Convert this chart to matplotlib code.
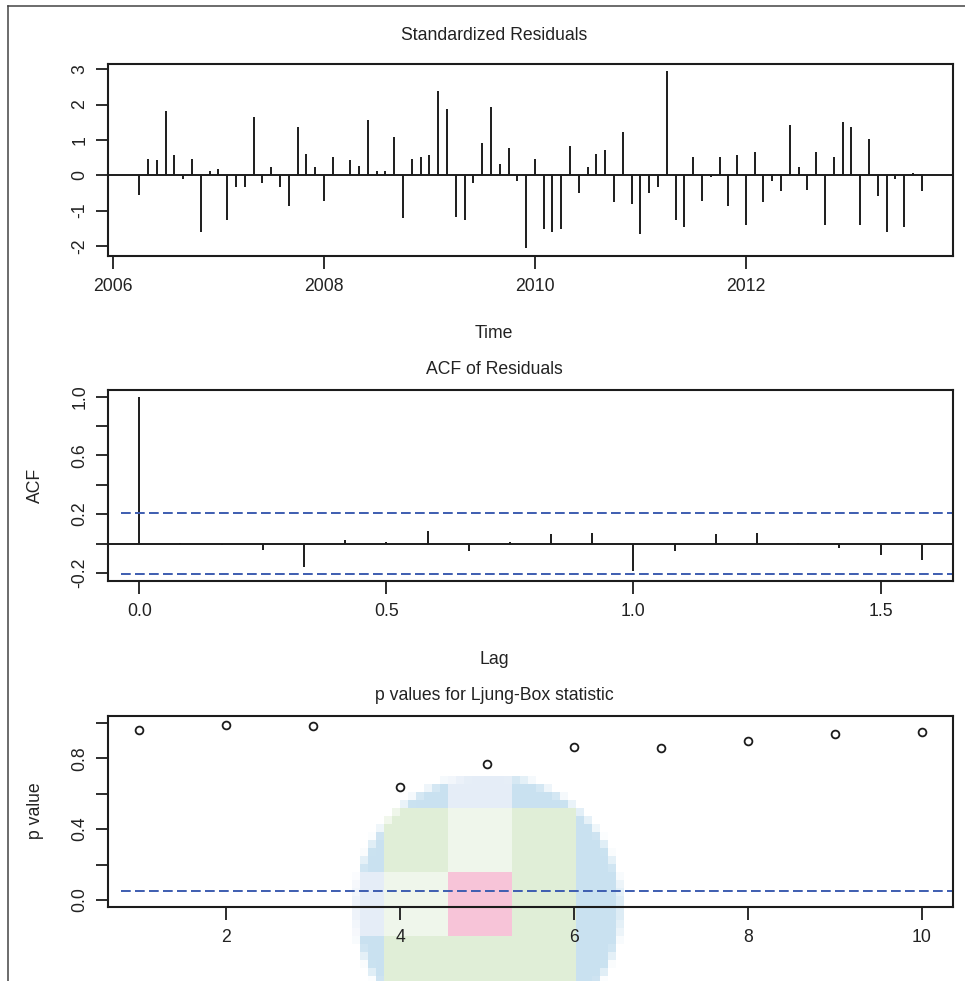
import numpy as np
import matplotlib
matplotlib.use('Agg')
import matplotlib.pyplot as plt
from matplotlib.lines import Line2D

plt.rcParams['font.family'] = ['Liberation Sans', 'DejaVu Sans']

# ---------------- data ----------------
start_year = 2006
start_month = 4          # April 2006, monthly series
resid = [-0.56, 0.46, 0.42, 1.82, 0.57, -0.11, 0.46, -1.61, 0.12, 0.17,
         -1.26, -0.32, -0.32, 1.66, -0.23, 0.22, -0.32, -0.87, 1.37, 0.61,
         0.22, -0.72, 0.51, 0.02, 0.42, 0.26, 1.57, 0.12, 0.12, 1.07,
         -1.22, 0.46, 0.51, 0.57, 2.37, 1.87, -1.17, -1.27, -0.23, 0.92,
         1.92, 0.32, 0.76, -0.16, -2.07, 0.46, -1.52, -1.61, -1.52, 0.82,
         -0.51, 0.22, 0.61, 0.72, -0.76, 1.22, -0.82, -1.66, -0.51, -0.32,
         2.96, -1.26, -1.46, 0.52, -0.72, -0.06, 0.52, -0.87, 0.57, -1.42,
         0.67, -0.76, -0.16, -0.46, 1.42, 0.22, -0.42, 0.67, -1.42, 0.52,
         1.52, 1.37, -1.42, 1.02, -0.60, -1.61, -0.11, -1.46, 0.07, -0.46]

acf_lag_months = list(range(20))
acf_vals = [1.0, 0.003, -0.012, -0.043, -0.159, 0.025, 0.011, 0.085, -0.054, 0.011,
            0.065, 0.074, -0.186, -0.054, 0.063, 0.074, 0.002, -0.029, -0.078, -0.114]
acf_clim = 0.2066

lb_lags = [1, 2, 3, 4, 5, 6, 7, 8, 9, 10]
lb_pvals = [0.960, 0.990, 0.981, 0.640, 0.770, 0.862, 0.860, 0.900, 0.941, 0.951]
lb_alpha = 0.05

res_xticks = [2006, 2008, 2010, 2012]
res_yticks = [-2, -1, 0, 1, 2, 3]
acf_xticks = [0.0, 0.5, 1.0, 1.5]
acf_yticks = [-0.2, 0.0, 0.2, 0.4, 0.6, 0.8, 1.0]
acf_yticklabels = ['-0.2', '', '0.2', '', '0.6', '', '1.0']
lb_xticks = [2, 4, 6, 8, 10]
lb_yticks = [0.0, 0.2, 0.4, 0.6, 0.8, 1.0]
lb_yticklabels = ['0.0', '', '0.4', '', '0.8', '']

# ---------------- style ----------------
W, H = 965, 981
INK = '#1c1c1c'
TXT = '#222222'
BLUE = '#3d5db0'
FS = 12.7
LW = 1.4

fig = plt.figure(figsize=(W / 100, H / 100), dpi=100)
fig.patch.set_facecolor('white')


def px_axes(l, t, r, b, z=1):
    ax = fig.add_axes([l / W, 1 - b / H, (r - l) / W, (b - t) / H])
    ax.set_zorder(z)
    ax.patch.set_alpha(0)
    return ax


def rlim(lo, hi):
    d = (hi - lo) * 0.04
    return lo - d, hi + d


def style(ax):
    for s in ax.spines.values():
        s.set_color(INK)
        s.set_linewidth(1.5)
    ax.tick_params(direction='out', length=9, width=1.3, colors=INK,
                   labelcolor=TXT, labelsize=FS)
    ax.tick_params(axis='x', pad=7)
    ax.tick_params(axis='y', pad=5, labelrotation=90)
    for lbl in ax.get_yticklabels():
        lbl.set_va('center')


def ftext(x, y, s, rot=0):
    fig.text(x / W, 1 - y / H, s, ha='center', va='center', rotation=rot,
             fontsize=FS, color=TXT)


# ---------- panel 1: standardized residuals ----------
ax1 = px_axes(108, 63.5, 953, 255.5)
t = start_year + (start_month - 1) / 12 + np.arange(len(resid)) / 12
ax1.vlines(t, 0, resid, color=INK, lw=LW)
ax1.axhline(0, color=INK, lw=LW)
ax1.set_xlim(*rlim(t.min(), t.max()))
ax1.set_ylim(*rlim(min(resid), max(resid)))
ax1.set_xticks(res_xticks, [str(v) for v in res_xticks])
ax1.set_yticks(res_yticks, [str(v) for v in res_yticks])
style(ax1)

# ---------- panel 2: ACF ----------
ax2 = px_axes(108, 389.5, 953, 581)
lags = np.array(acf_lag_months) / 12
ax2.vlines(lags, 0, acf_vals, color=INK, lw=LW)
ax2.axhline(0, color=INK, lw=LW)
for c in (acf_clim, -acf_clim):
    ax2.axhline(c, xmin=13 / 845, xmax=1, color=BLUE, lw=LW, ls=(0, (5, 2.2)))
ax2.set_xlim(*rlim(lags.min(), lags.max()))
ax2.set_ylim(*rlim(min(min(acf_vals), -acf_clim), max(max(acf_vals), acf_clim)))
ax2.set_xticks(acf_xticks, ['%.1f' % v for v in acf_xticks])
ax2.set_yticks(acf_yticks, acf_yticklabels)
style(ax2)

# ---------- panel 3: Ljung-Box p values ----------
ax3 = px_axes(108, 716, 953, 907)
ax3.plot(lb_lags, lb_pvals, ls='none', marker='o', ms=5.6, mfc='none',
         mec=INK, mew=1.3)
ax3.axhline(lb_alpha, xmin=13 / 845, xmax=1, color=BLUE, lw=LW, ls=(0, (5, 2.2)))
ax3.set_xlim(*rlim(min(lb_lags), max(lb_lags)))
ax3.set_ylim(*rlim(0, 1))
ax3.set_xticks(lb_xticks, [str(v) for v in lb_xticks])
ax3.set_yticks(lb_yticks, lb_yticklabels)
style(ax3)

# ---------- titles and labels ----------
TX = 494
ftext(TX, 36, 'Standardized Residuals')
ftext(TX, 333, 'Time')
ftext(TX, 369, 'ACF of Residuals')
ftext(TX, 659, 'Lag')
ftext(TX, 696, 'p values for Ljung-Box statistic')
ftext(35, 485, 'ACF', rot=90)
ftext(35, 811, 'p value', rot=90)

# ---------- screenshot frame ----------
fig.add_artist(Line2D([8 / W, 8 / W], [0, 1 - 6 / H], transform=fig.transFigure,
                      color='#444444', lw=1.1))
fig.add_artist(Line2D([8 / W, 1], [1 - 6 / H, 1 - 6 / H], transform=fig.transFigure,
                      color='#444444', lw=1.1))

# ---------- pixelated blob overlay (behind plot marks) ----------
cell = 8
bx0, by0 = 352, 776
nx, ny = 34, 27
ccx, ccy, rad = 488, 908, 133
PINK = (0.97, 0.77, 0.85)
GREEN = (0.88, 0.935, 0.845)
PALE = (0.94, 0.965, 0.925)
LAV = (0.90, 0.93, 0.97)
SKY = (0.79, 0.885, 0.945)


def region_color(x, y):
    if 388 <= x < 580 and y >= 808:
        c = 0 if x < 452 else (1 if x < 516 else 2)
        r = 0 if y < 872 else (1 if y < 936 else 2)
        if (r, c) == (1, 1):
            return PINK
        if (r, c) in ((0, 1), (1, 0)):
            return PALE
        return GREEN
    if y < 808:
        if 452 <= x < 516:
            return LAV
        return SKY
    if x < 388:
        if 872 <= y < 936:
            return LAV
        return SKY
    return SKY


img = np.zeros((ny, nx, 4))
ss = np.linspace(0.5, 7.5, 8)
for j in range(ny):
    for i in range(nx):
        X, Y = np.meshgrid(bx0 + i * cell + ss, by0 + j * cell + ss)
        cov = np.mean((X - ccx) ** 2 + (Y - ccy) ** 2 <= rad ** 2)
        col = region_color(bx0 + i * cell + 4, by0 + j * cell + 4)
        img[j, i, :3] = col
        img[j, i, 3] = cov

axb = px_axes(bx0, by0, bx0 + nx * cell, by0 + ny * cell, z=0)
axb.imshow(img, interpolation='nearest', aspect='auto')
axb.axis('off')

fig.savefig('out.png', dpi=100, facecolor='white')
